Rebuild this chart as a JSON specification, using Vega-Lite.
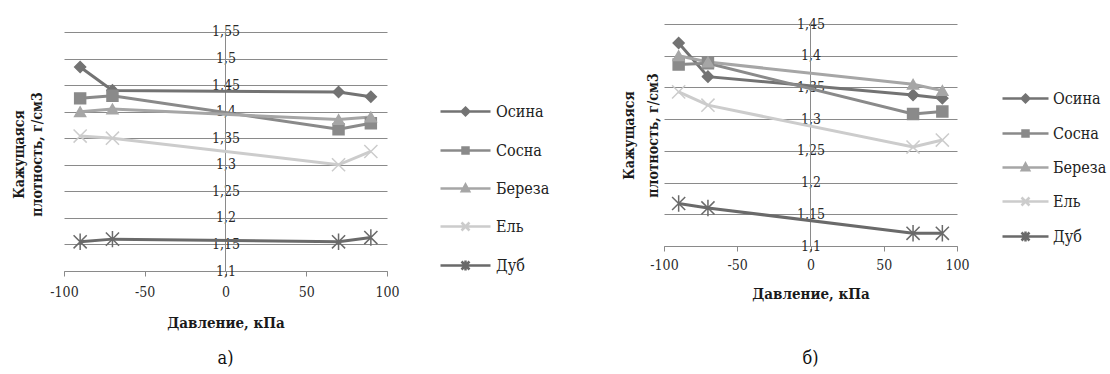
{
  "$schema": "https://vega.github.io/schema/vega-lite/v6.json",
  "background": "white",
  "padding": {"left": 12, "top": 17, "right": 0, "bottom": 0},
  "autosize": {"type": "pad"},
  "config": {
    "view": {"stroke": null},
    "font": "DejaVu Serif Condensed, DejaVu Serif",
    "axis": {"labelFont": "DejaVu Serif Condensed, DejaVu Serif", "titleFont": "DejaVu Serif Condensed, DejaVu Serif", "labelColor": "#2a2a2a", "titleColor": "#1a1a1a", "labelOverlap": false},
    "legend": {"labelFont": "DejaVu Serif Condensed, DejaVu Serif"},
    "title": {"font": "DejaVu Serif Condensed, DejaVu Serif"}
  },
  "datasets": {
    "a": [
      {"species": "Осина", "p": -90, "d": 1.484}, {"species": "Осина", "p": -70, "d": 1.44}, {"species": "Осина", "p": 70, "d": 1.437}, {"species": "Осина", "p": 90, "d": 1.428},
      {"species": "Сосна", "p": -90, "d": 1.425}, {"species": "Сосна", "p": -70, "d": 1.43}, {"species": "Сосна", "p": 70, "d": 1.367}, {"species": "Сосна", "p": 90, "d": 1.378},
      {"species": "Береза", "p": -90, "d": 1.40}, {"species": "Береза", "p": -70, "d": 1.405}, {"species": "Береза", "p": 70, "d": 1.385}, {"species": "Береза", "p": 90, "d": 1.39},
      {"species": "Ель", "p": -90, "d": 1.354}, {"species": "Ель", "p": -70, "d": 1.35}, {"species": "Ель", "p": 70, "d": 1.30}, {"species": "Ель", "p": 90, "d": 1.325},
      {"species": "Дуб", "p": -90, "d": 1.155}, {"species": "Дуб", "p": -70, "d": 1.16}, {"species": "Дуб", "p": 70, "d": 1.155}, {"species": "Дуб", "p": 90, "d": 1.163}
    ],
    "b": [
      {"species": "Осина", "p": -90, "d": 1.42}, {"species": "Осина", "p": -70, "d": 1.367}, {"species": "Осина", "p": 70, "d": 1.338}, {"species": "Осина", "p": 90, "d": 1.333},
      {"species": "Сосна", "p": -90, "d": 1.386}, {"species": "Сосна", "p": -70, "d": 1.388}, {"species": "Сосна", "p": 70, "d": 1.308}, {"species": "Сосна", "p": 90, "d": 1.312},
      {"species": "Береза", "p": -90, "d": 1.40}, {"species": "Береза", "p": -70, "d": 1.39}, {"species": "Береза", "p": 70, "d": 1.355}, {"species": "Береза", "p": 90, "d": 1.345},
      {"species": "Ель", "p": -90, "d": 1.343}, {"species": "Ель", "p": -70, "d": 1.322}, {"species": "Ель", "p": 70, "d": 1.256}, {"species": "Ель", "p": 90, "d": 1.267},
      {"species": "Дуб", "p": -90, "d": 1.167}, {"species": "Дуб", "p": -70, "d": 1.16}, {"species": "Дуб", "p": 70, "d": 1.12}, {"species": "Дуб", "p": 90, "d": 1.12}
    ]
  },
  "spacing": 72,
  "resolve": {"legend": {"color": "independent"}},
  "hconcat": [
    {
      "width": 323,
      "height": 247,
      "data": {"name": "a"},
      "title": {"text": "а)", "orient": "bottom", "anchor": "middle", "frame": "group", "offset": 20, "fontSize": 18, "fontWeight": "normal", "color": "#111"},
      "layer": [
        {
          "mark": {"type": "rule", "color": "#8a8a8a", "strokeWidth": 1},
          "encoding": {
            "x": {"datum": 0, "type": "quantitative", "scale": {"domain": [-100, 100], "nice": false},
              "axis": {"values": [-100, -50, 0, 50, 100], "grid": false, "labelFlush": false, "labelOverlap": false, "domainColor": "#8a8a8a", "tickColor": "#8a8a8a", "tickSize": 5, "labelFontSize": 14, "labelPadding": 9, "labelExpr": "'' + datum.value", "title": "Давление, кПа", "titleFontSize": 15, "titleFontWeight": "bold", "titlePadding": 16}},
            "y": {"datum": 1.1, "type": "quantitative", "scale": {"domain": [1.1, 1.565], "nice": false, "zero": false},
              "axis": {"values": [1.1, 1.15, 1.2, 1.25, 1.3, 1.35, 1.4, 1.45, 1.5, 1.55], "labelOverlap": false, "grid": true, "gridColor": "#8a8a8a", "gridWidth": 1, "domain": false, "ticks": false, "labelAlign": "center", "labelPadding": -161.5, "labelFontSize": 14, "labelExpr": "replace(format(datum.value, '.2~f'), '.', ',')", "title": ["Кажущаяся", "плотность, г/см3"], "titleFontSize": 14, "titleFontWeight": "bold", "titleLineHeight": 18, "titleX": -38, "titleY": 130}},
            "y2": {"datum": 1.55}
          }
        },
        {
          "encoding": {
            "x": {"field": "p", "type": "quantitative", "scale": {"domain": [-100, 100], "nice": false},
              "axis": {"values": [-100, -50, 0, 50, 100], "grid": false, "labelFlush": false, "labelOverlap": false, "domainColor": "#8a8a8a", "tickColor": "#8a8a8a", "tickSize": 5, "labelFontSize": 14, "labelPadding": 9, "labelExpr": "'' + datum.value", "title": "Давление, кПа", "titleFontSize": 15, "titleFontWeight": "bold", "titlePadding": 16}},
            "y": {"field": "d", "type": "quantitative", "scale": {"domain": [1.1, 1.565], "nice": false, "zero": false},
              "axis": {"values": [1.1, 1.15, 1.2, 1.25, 1.3, 1.35, 1.4, 1.45, 1.5, 1.55], "labelOverlap": false, "grid": true, "gridColor": "#8a8a8a", "gridWidth": 1, "domain": false, "ticks": false, "labelAlign": "center", "labelPadding": -161.5, "labelFontSize": 14, "labelExpr": "replace(format(datum.value, '.2~f'), '.', ',')", "title": ["Кажущаяся", "плотность, г/см3"], "titleFontSize": 14, "titleFontWeight": "bold", "titleLineHeight": 18, "titleX": -38, "titleY": 130}},
            "color": {"field": "species", "type": "nominal", "sort": ["Осина", "Сосна", "Береза", "Ель", "Дуб"],
              "scale": {"domain": ["Осина", "Сосна", "Береза", "Ель", "Дуб"], "range": ["#737373", "#8a8a8a", "#a6a6a6", "#cccccc", "#6a6a6a"]},
              "legend": {"title": null, "orient": "none", "legendX": 390, "legendY": 76, "symbolSize": 400, "labelOffset": 19, "rowPadding": 18, "labelFontSize": 16, "labelColor": "#222", "padding": 0,
                "encode": {"symbols": {"update": {
                  "shape": {"signal": "datum.value === 'Осина' ? 'M-2.5,0L2.5,0M0,-0.38L0.38,0L0,0.38L-0.38,0Z' : datum.value === 'Сосна' ? 'M-2.5,0L2.5,0M-0.3,-0.3L0.3,-0.3L0.3,0.3L-0.3,0.3Z' : datum.value === 'Береза' ? 'M-2.5,0L2.5,0M0,-0.38L0.36,0.28L-0.36,0.28Z' : datum.value === 'Ель' ? 'M-2.5,0L2.5,0M-0.4,-0.4L0.4,0.4M-0.4,0.4L0.4,-0.4' : 'M-2.5,0L2.5,0M-0.4,-0.4L0.4,0.4M-0.4,0.4L0.4,-0.4M0,-0.5L0,0.5'"},
                  "stroke": {"scale": "color", "field": "value"},
                  "fill": {"scale": "color", "field": "value"},
                  "strokeWidth": {"value": 2.5},
                  "opacity": {"value": 1}
                }}}}}
          },
          "layer": [
            {"mark": {"type": "line", "strokeWidth": 3}},
            {"mark": {"type": "point", "filled": true, "size": 120, "strokeWidth": 1.5, "opacity": 1},
              "encoding": {
                "shape": {"field": "species", "type": "nominal", "legend": null,
                  "scale": {"domain": ["Осина", "Сосна", "Береза", "Ель", "Дуб"], "range": ["diamond", "square", "triangle-up", "M-1.2,-1.2L1.2,1.2M-1.2,1.2L1.2,-1.2", "M-1.2,-1.2L1.2,1.2M-1.2,1.2L1.2,-1.2M0,-1.5L0,1.5"]}},
                "stroke": {"field": "species", "type": "nominal", "legend": null,
                  "scale": {"domain": ["Осина", "Сосна", "Береза", "Ель", "Дуб"], "range": ["#737373", "#8a8a8a", "#a6a6a6", "#cccccc", "#6a6a6a"]}}
              }}
          ]
        }
      ]
    },
    {
      "width": 293,
      "height": 222,
      "data": {"name": "b"},
      "title": {"text": "б)", "orient": "bottom", "anchor": "middle", "frame": "group", "offset": 49, "fontSize": 18, "fontWeight": "normal", "color": "#111"},
      "layer": [
        {
          "mark": {"type": "rule", "color": "#8a8a8a", "strokeWidth": 1},
          "encoding": {
            "x": {"datum": 0, "type": "quantitative", "scale": {"domain": [-100, 100], "nice": false},
              "axis": {"values": [-100, -50, 0, 50, 100], "grid": false, "labelFlush": false, "labelOverlap": false, "domainColor": "#8a8a8a", "tickColor": "#8a8a8a", "tickSize": 5, "labelFontSize": 14, "labelPadding": 7, "labelExpr": "'' + datum.value", "title": "Давление, кПа", "titleFontSize": 15, "titleFontWeight": "bold", "titlePadding": 14}},
            "y": {"datum": 1.1, "type": "quantitative", "scale": {"domain": [1.1, 1.45], "nice": false, "zero": false},
              "axis": {"values": [1.1, 1.15, 1.2, 1.25, 1.3, 1.35, 1.4, 1.45], "labelOverlap": false, "grid": true, "gridColor": "#8a8a8a", "gridWidth": 1, "domain": false, "ticks": false, "labelAlign": "center", "labelPadding": -146.5, "labelFontSize": 14, "labelExpr": "replace(format(datum.value, '.2~f'), '.', ',')", "title": ["Кажущаяся", "плотность, г/см3"], "titleFontSize": 14, "titleFontWeight": "bold", "titleLineHeight": 24, "titleX": -28, "titleY": 111}},
            "y2": {"datum": 1.45}
          }
        },
        {
          "encoding": {
            "x": {"field": "p", "type": "quantitative", "scale": {"domain": [-100, 100], "nice": false},
              "axis": {"values": [-100, -50, 0, 50, 100], "grid": false, "labelFlush": false, "labelOverlap": false, "domainColor": "#8a8a8a", "tickColor": "#8a8a8a", "tickSize": 5, "labelFontSize": 14, "labelPadding": 7, "labelExpr": "'' + datum.value", "title": "Давление, кПа", "titleFontSize": 15, "titleFontWeight": "bold", "titlePadding": 14}},
            "y": {"field": "d", "type": "quantitative", "scale": {"domain": [1.1, 1.45], "nice": false, "zero": false},
              "axis": {"values": [1.1, 1.15, 1.2, 1.25, 1.3, 1.35, 1.4, 1.45], "labelOverlap": false, "grid": true, "gridColor": "#8a8a8a", "gridWidth": 1, "domain": false, "ticks": false, "labelAlign": "center", "labelPadding": -146.5, "labelFontSize": 14, "labelExpr": "replace(format(datum.value, '.2~f'), '.', ',')", "title": ["Кажущаяся", "плотность, г/см3"], "titleFontSize": 14, "titleFontWeight": "bold", "titleLineHeight": 24, "titleX": -28, "titleY": 111}},
            "color": {"field": "species", "type": "nominal", "sort": ["Осина", "Сосна", "Береза", "Ель", "Дуб"],
              "scale": {"domain": ["Осина", "Сосна", "Береза", "Ель", "Дуб"], "range": ["#737373", "#8a8a8a", "#a6a6a6", "#cccccc", "#6a6a6a"]},
              "legend": {"title": null, "orient": "none", "legendX": 350, "legendY": 63, "symbolSize": 400, "labelOffset": 16, "rowPadding": 14, "labelFontSize": 16, "labelColor": "#222", "padding": 0,
                "encode": {"symbols": {"update": {
                  "shape": {"signal": "datum.value === 'Осина' ? 'M-2.3,0L2.3,0M0,-0.38L0.38,0L0,0.38L-0.38,0Z' : datum.value === 'Сосна' ? 'M-2.3,0L2.3,0M-0.3,-0.3L0.3,-0.3L0.3,0.3L-0.3,0.3Z' : datum.value === 'Береза' ? 'M-2.3,0L2.3,0M0,-0.38L0.36,0.28L-0.36,0.28Z' : datum.value === 'Ель' ? 'M-2.3,0L2.3,0M-0.4,-0.4L0.4,0.4M-0.4,0.4L0.4,-0.4' : 'M-2.3,0L2.3,0M-0.4,-0.4L0.4,0.4M-0.4,0.4L0.4,-0.4M0,-0.5L0,0.5'"},
                  "stroke": {"scale": "color", "field": "value"},
                  "fill": {"scale": "color", "field": "value"},
                  "strokeWidth": {"value": 2.5},
                  "opacity": {"value": 1}
                }}}}}
          },
          "layer": [
            {"mark": {"type": "line", "strokeWidth": 3}},
            {"mark": {"type": "point", "filled": true, "size": 120, "strokeWidth": 1.5, "opacity": 1},
              "encoding": {
                "shape": {"field": "species", "type": "nominal", "legend": null,
                  "scale": {"domain": ["Осина", "Сосна", "Береза", "Ель", "Дуб"], "range": ["diamond", "square", "triangle-up", "M-1.2,-1.2L1.2,1.2M-1.2,1.2L1.2,-1.2", "M-1.2,-1.2L1.2,1.2M-1.2,1.2L1.2,-1.2M0,-1.5L0,1.5"]}},
                "stroke": {"field": "species", "type": "nominal", "legend": null,
                  "scale": {"domain": ["Осина", "Сосна", "Береза", "Ель", "Дуб"], "range": ["#737373", "#8a8a8a", "#a6a6a6", "#cccccc", "#6a6a6a"]}}
              }}
          ]
        }
      ]
    }
  ]
}
